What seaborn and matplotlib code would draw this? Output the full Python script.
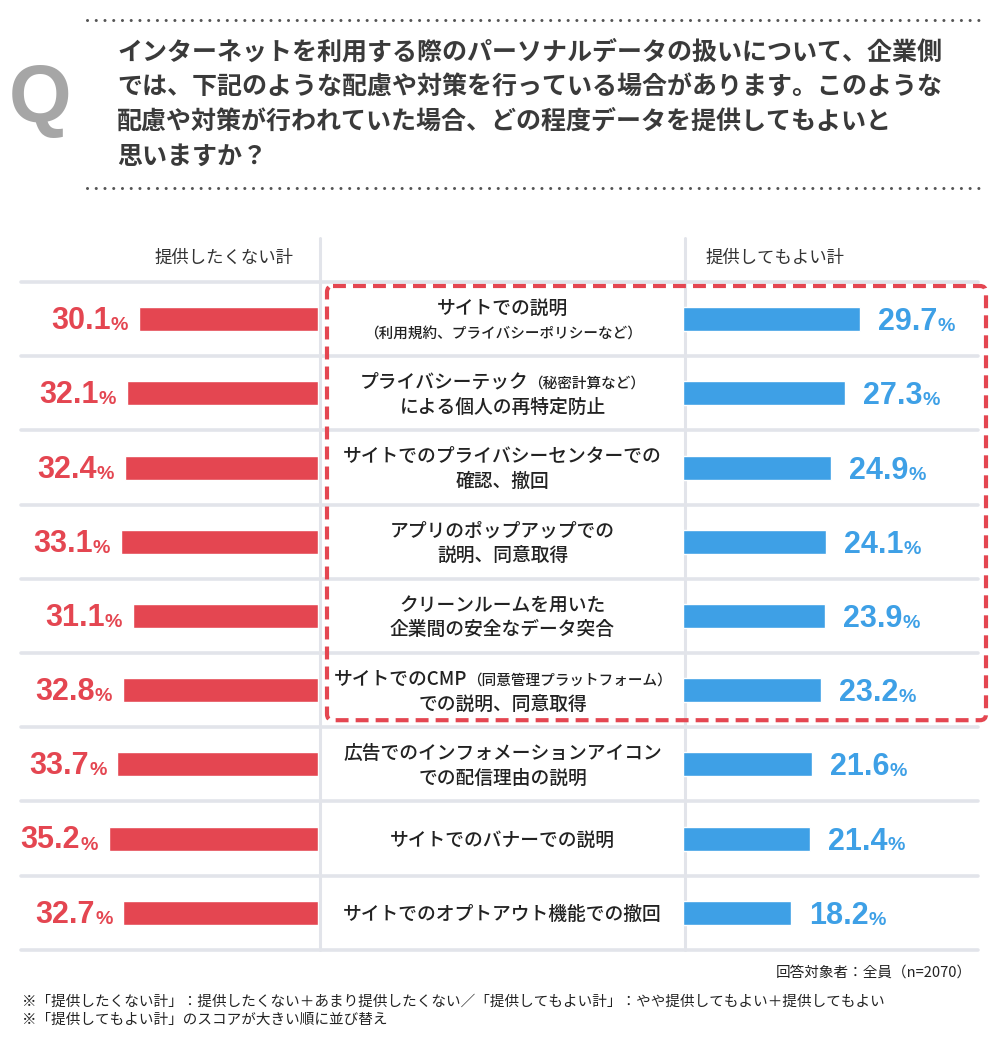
import re
import matplotlib
matplotlib.use('Agg')
import matplotlib.pyplot as plt
from matplotlib.patches import FancyBboxPatch
import pandas as pd
import seaborn as sns


QUESTION = ['インターネットを利用する際のパーソナルデータの扱いについて、企業側',
            'では、下記のような配慮や対策を行っている場合があります。このような',
            '配慮や対策が行われていた場合、どの程度データを提供してもよいと',
            '思いますか？']
HEAD_LEFT = '提供したくない計'
HEAD_RIGHT = '提供してもよい計'
ITEMS = ['サイトでの説明\n（利用規約、プライバシーポリシーなど）',
         'プライバシーテック（秘密計算など）\nによる個人の再特定防止',
         'サイトでのプライバシーセンターでの\n確認、撤回',
         'アプリのポップアップでの\n説明、同意取得',
         'クリーンルームを用いた\n企業間の安全なデータ突合',
         'サイトでのCMP（同意管理プラットフォーム）\nでの説明、同意取得',
         '広告でのインフォメーションアイコン\nでの配信理由の説明',
         'サイトでのバナーでの説明',
         'サイトでのオプトアウト機能での撤回']
NOT_WANT = [30.1, 32.1, 32.4, 33.1, 31.1, 32.8, 33.7, 35.2, 32.7]
OK_GIVE = [29.7, 27.3, 24.9, 24.1, 23.9, 23.2, 21.6, 21.4, 18.2]
N_HIGHLIGHT = 6
BASE_NOTE = '回答対象者：全員（n=2070）'
NOTES = ['※「提供したくない計」：提供したくない＋あまり提供したくない／「提供してもよい計」：やや提供してもよい＋提供してもよい',
         '※「提供してもよい計」のスコアが大きい順に並び替え']

# layout in pixels (figure is 1000 x 1042 at dpi 100)
W, H = 1000, 1042
ROW_TOP, ROW_H = 282, 74.2
MID_L, MID_R = 320, 685
LINE_L, LINE_R = 21, 978
PX_PCT = 5.95
RED = '#e44651'
BLUE = '#3ea0e6'
GRID = '#e2e4ea'
INK = '#222222'
NUM_FONT = 'Liberation Sans'


def px_axes(fig, x0, x1, y0, y1):
    return fig.add_axes([x0 / W, 1 - y1 / H, (x1 - x0) / W, (y1 - y0) / H])


def draw_line_parts(ax, renderer, xc, yc, line, size, small):
    """draw one label line, text in （） a bit smaller, centred on xc"""
    pieces = [p for p in re.split(r'(（[^）]*）)', line) if p]
    texts = []
    for p in pieces:
        fs = small if p.startswith('（') else size
        texts.append(ax.text(0, yc + 7, p, fontsize=fs, va='baseline',
                             ha='left', color=INK, fontweight='medium'))
    widths = [t.get_window_extent(renderer).width for t in texts]
    x = xc - sum(widths) / 2
    for t, w in zip(texts, widths):
        t.set_x(x)
        x += w


def main():
    sns.set_style('white')
    plt.rcParams['font.family'] = ['Noto Sans CJK JP', 'DejaVu Sans']

    fig = plt.figure(figsize=(W / 100, H / 100), dpi=100)
    renderer = fig.canvas.get_renderer()

    bg = fig.add_axes([0, 0, 1, 1])
    bg.set_xlim(0, W)
    bg.set_ylim(H, 0)
    bg.axis('off')

    # question block
    for y in (20, 188):
        bg.plot([87, 981], [y, y], ls=(0, (0.01, 2.85)), lw=2.2,
                color='#555555', dash_capstyle='round')
    bg.text(40, 101, 'Q', ha='center', va='center', fontsize=58,
            fontweight='bold', color='#a6a6a6', family=NUM_FONT)
    for k, line in enumerate(QUESTION):
        bg.text(117, 52 + 35 * k, line, va='center', fontsize=18,
                fontweight='bold', color='#3a3a3a')

    # table frame
    bg.text(224, 258, HEAD_LEFT, ha='center', va='center', fontsize=12.5,
            color='#333333')
    bg.text(775, 258, HEAD_RIGHT, ha='center', va='center', fontsize=12.5,
            color='#333333')
    n = len(ITEMS)
    bottom = ROW_TOP + n * ROW_H
    for x in (MID_L, MID_R):
        bg.plot([x, x], [238, bottom], color=GRID, lw=2.2)
    for k in range(n + 1):
        y = ROW_TOP + k * ROW_H
        bg.plot([LINE_L, LINE_R], [y, y], color=GRID, lw=2.6)

    for i, item in enumerate(ITEMS):
        lines = item.split('\n')
        center = ROW_TOP + (i + 0.5) * ROW_H
        for j, line in enumerate(lines):
            yc = center + (j - (len(lines) - 1) / 2) * 25
            draw_line_parts(bg, renderer, (MID_L + MID_R) / 2, yc, line,
                            13.5, 10.5)

    box = FancyBboxPatch((327, ROW_TOP + 4), 986 - 327,
                         N_HIGHLIGHT * ROW_H - 11,
                         boxstyle='round,pad=0,rounding_size=6', fill=False,
                         ec=RED, lw=3, ls=(0, (3.1, 1.7)), zorder=5)
    bg.add_patch(box)

    # bars
    df = pd.DataFrame({'item': ITEMS, 'not_want': NOT_WANT, 'ok': OK_GIVE})
    left_ax = px_axes(fig, LINE_L, 318, ROW_TOP, bottom)
    right_ax = px_axes(fig, 683, LINE_R, ROW_TOP, bottom)
    bar_w = 24 / ROW_H
    sns.barplot(data=df, x='not_want', y='item', orient='h', color=RED,
                saturation=1, width=bar_w, ax=left_ax)
    sns.barplot(data=df, x='ok', y='item', orient='h', color=BLUE,
                saturation=1, width=bar_w, ax=right_ax)
    left_ax.set_xlim((318 - LINE_L) / PX_PCT, 0)
    right_ax.set_xlim(0, (LINE_R - 683) / PX_PCT)
    for ax in (left_ax, right_ax):
        ax.set_ylim(n - 0.5, -0.5)
        ax.axis('off')
        ax.patch.set_visible(False)

    for i, v in enumerate(NOT_WANT):
        pct = left_ax.annotate('%', xy=(v, i), xytext=(-11, -11),
                               textcoords='offset pixels', ha='right',
                               va='baseline', fontsize=14, fontweight='bold',
                               color=RED, family=NUM_FONT)
        left_ax.annotate(f'{v:.1f}', xy=(0, 0), xycoords=pct, xytext=(0, -2),
                         textcoords='offset pixels', ha='right', va='bottom',
                         fontsize=22, fontweight='bold', color=RED,
                         family=NUM_FONT)
    for i, v in enumerate(OK_GIVE):
        num = right_ax.annotate(f'{v:.1f}', xy=(v, i), xytext=(18, -11),
                                textcoords='offset pixels', ha='left',
                                va='baseline', fontsize=22, fontweight='bold',
                                color=BLUE, family=NUM_FONT)
        right_ax.annotate('%', xy=(1, 0), xycoords=num, xytext=(0, 2),
                          textcoords='offset pixels', ha='left', va='bottom',
                          fontsize=14, fontweight='bold', color=BLUE,
                          family=NUM_FONT)

    # notes
    bg.text(972, 973, BASE_NOTE, ha='right', va='center', fontsize=10.5,
            color=INK)
    for k, note in enumerate(NOTES):
        bg.text(22, 1002 + 18 * k, note, va='center', fontsize=10.5,
                color=INK)

    fig.savefig('out.png', dpi=100)


if __name__ == '__main__':
    main()
